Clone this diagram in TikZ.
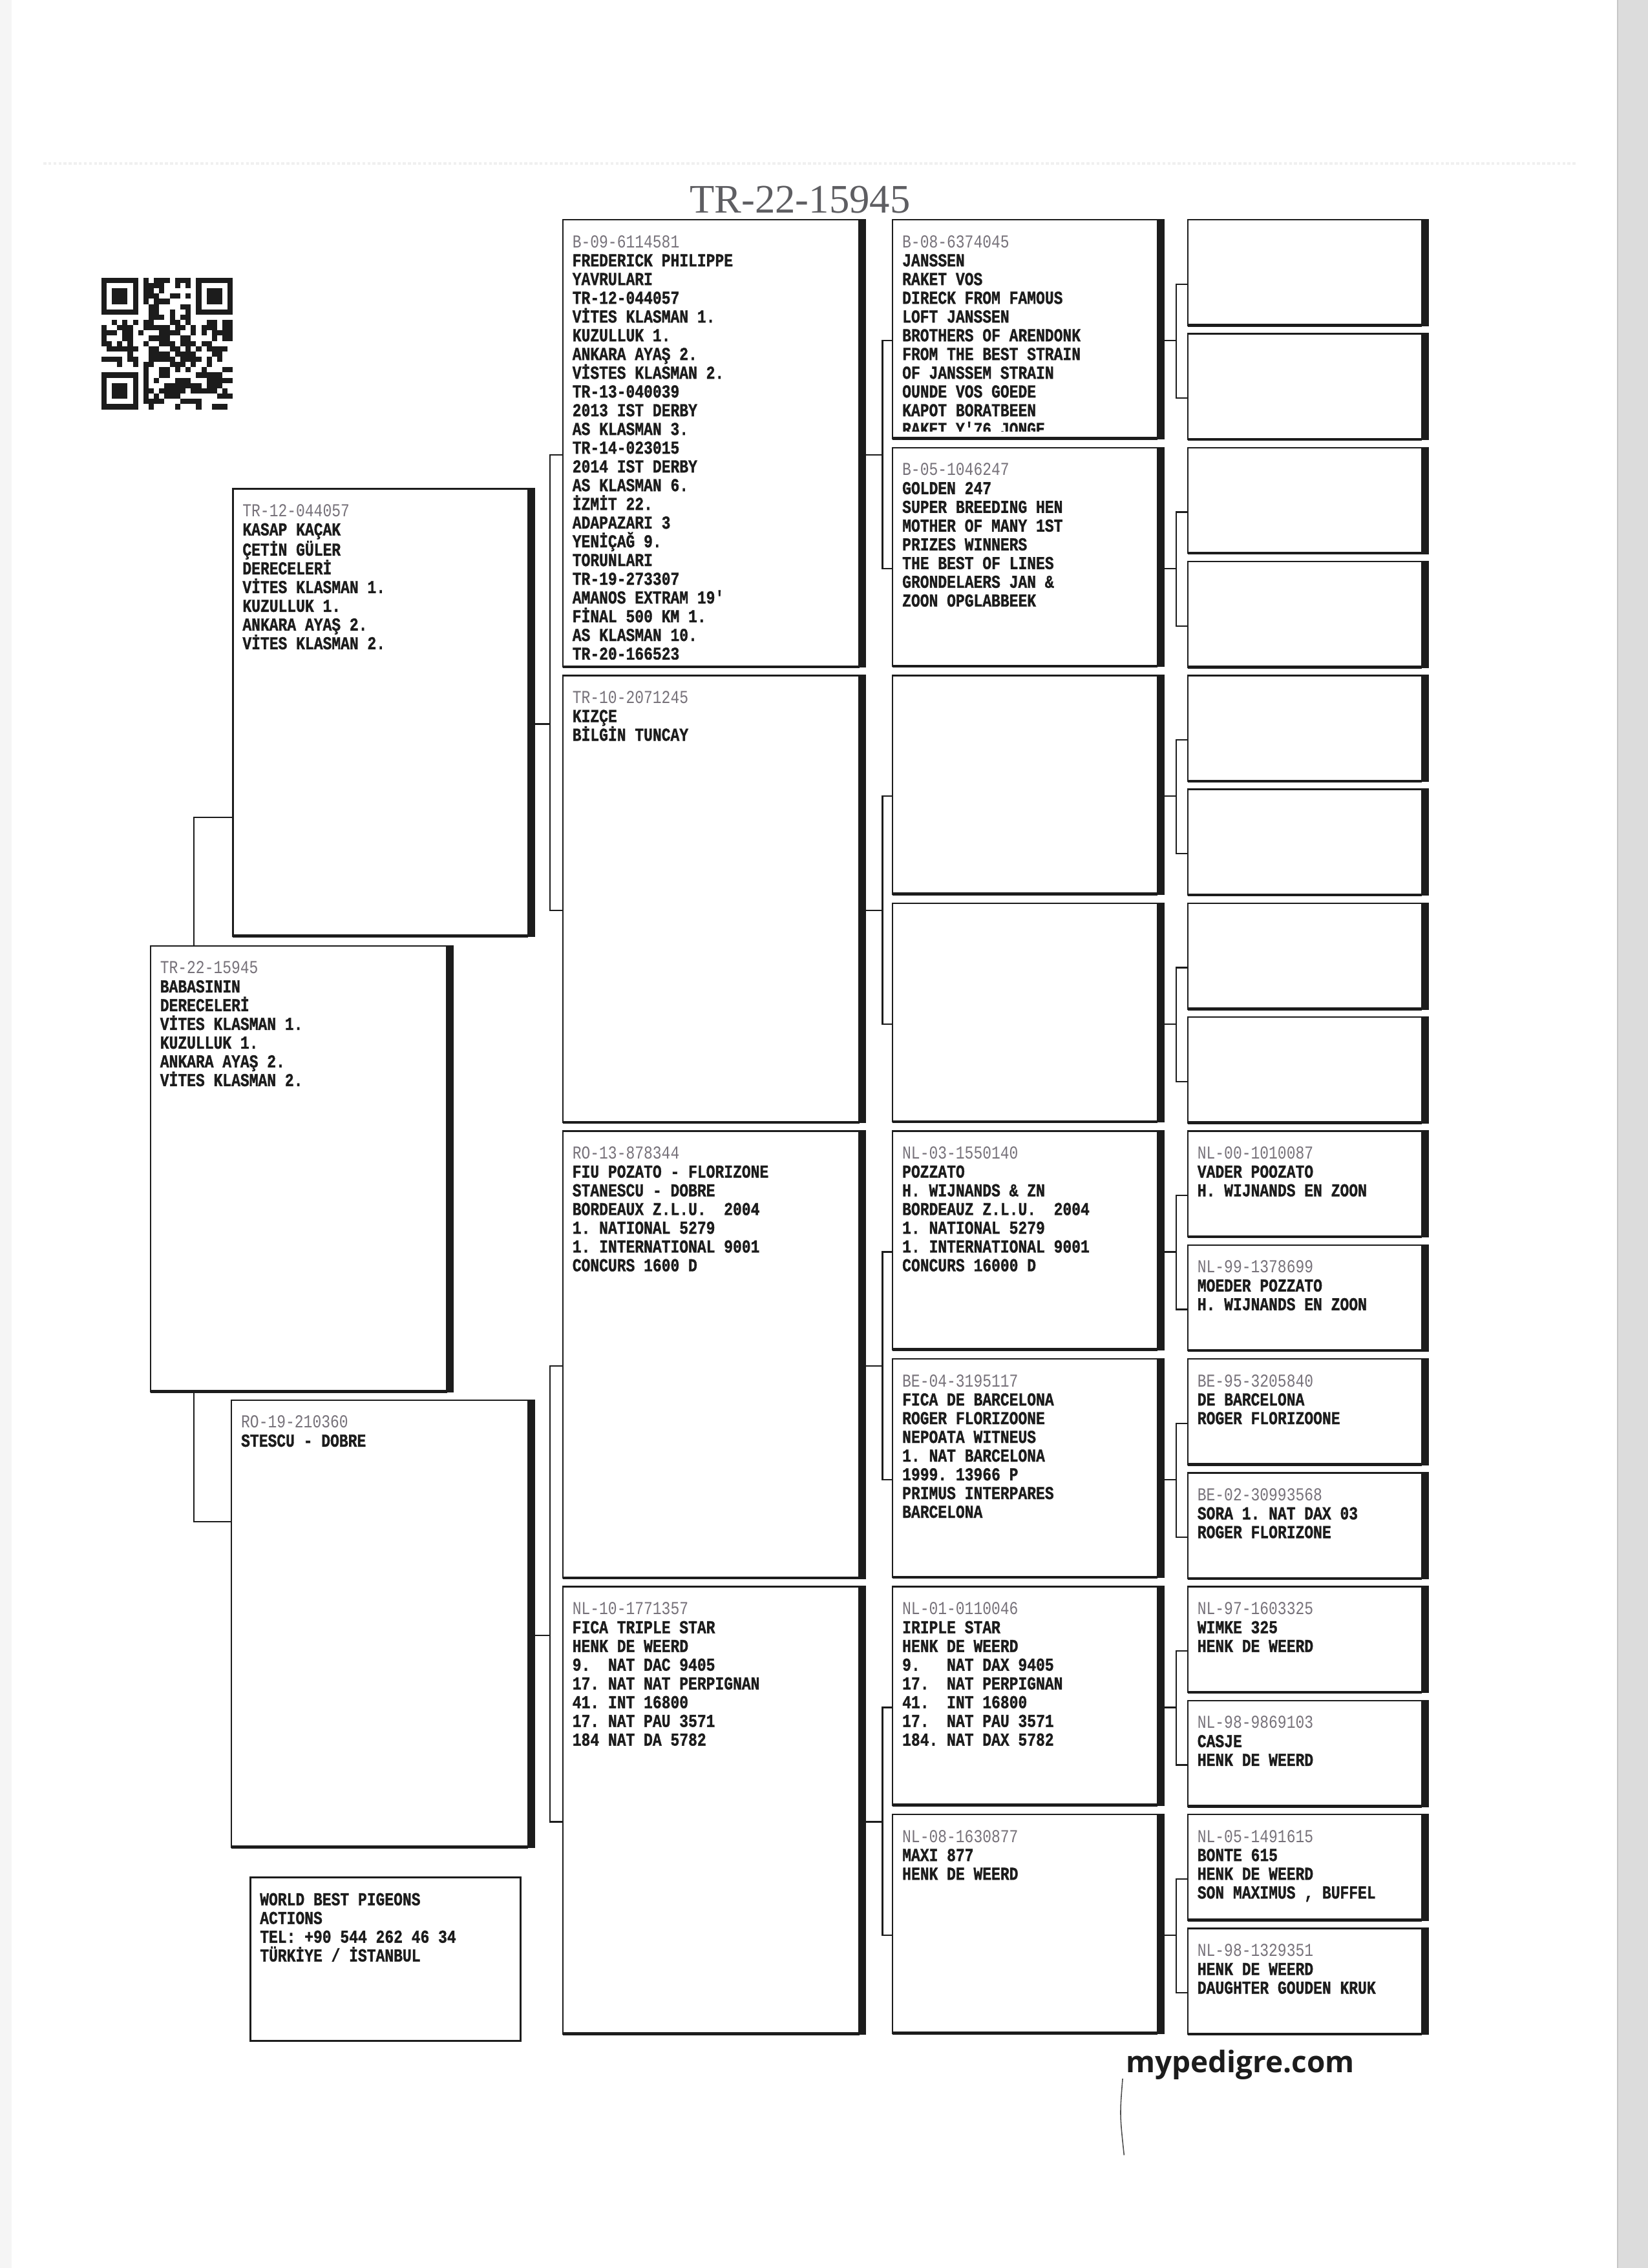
\documentclass[tikz,border=0pt]{standalone}
\usepackage{fontspec}
\newfontfamily\pedfont[FakeStretch=0.815, BoldFeatures={FakeBold=1.2}]{Liberation Mono}
\newfontfamily\titlefont{Liberation Serif}
\newfontfamily\logofont{Open Sans}
\definecolor{ink}{HTML}{1C1C1C}
\definecolor{ringgray}{HTML}{77727A}
\definecolor{titlegray}{HTML}{5E5E62}
\definecolor{paperedge}{HTML}{DCDCDC}
\tikzset{
  pedbox/.style={draw=ink, line width=1.1pt, inner sep=0pt, outer sep=0pt, anchor=north west, fill=white},
  pedtext/.style={anchor=north west, inner sep=0pt, align=left, text=ink, font=\pedfont\bfseries\fontsize{12.6}{12.95}\selectfont\frenchspacing},
  conn/.style={draw=ink, line width=1pt},
}
\newcommand\RingNo[1]{{\color{ringgray}\mdseries #1}}
\newcommand\PBox[5]{%
  \node[pedbox, minimum width=#4, minimum height=#5] (#1) at (#2,#3) {};
  \fill[ink] ([yshift=0.55pt]#1.north east) rectangle ([xshift=4.8pt,yshift=-0.6pt]#1.south east);
  \draw[ink, line width=2pt] (#1.south west) -- (#1.south east);
}
\newcommand\PText[3]{%
  \begin{scope}
    \clip ([xshift=0.6pt,yshift=-0.6pt]#1.north west) rectangle ([yshift=5pt]#1.south east);
    \node[pedtext] (#2) at ([xshift=6.5pt,yshift=-9pt]#1.north west) {\rule{0pt}{10pt}#3};
  \end{scope}}
\newcommand\PBracket[4]{%
  \draw[conn] ([yshift=-8pt]#2.west) -- ++(-#4,0) |- ([yshift=-8pt]#1.east);
  \draw[conn] ([yshift=-8pt]#3.west) -- ++(-#4,0) |- ([yshift=-8pt]#1.east);
}
\begin{document}
\begin{tikzpicture}[x=1pt,y=-1pt]
\useasboundingbox (0,0) rectangle (1139,1568);
% paper
\fill[white] (0,0) rectangle (1139,1568);
\fill[paperedge] (1118,0) rectangle (1139,1568);
\draw[gray!45, line width=0.8pt] (1118,0) -- (1118,1568);
\fill[gray!8] (0,0) rectangle (8,1568);
\draw[gray!12, line width=1.5pt, dash pattern=on 2pt off 1.5pt] (30,113) -- (1090,113);

% title
\node[font=\titlefont\fontsize{28}{30}\selectfont, text=titlegray, anchor=base, inner sep=0pt] (title) at (553,147) {TR-22-15945};

% QR code
\begin{scope}
\pgfmathsetseed{4711}
\foreach \i in {0,...,24}{
  \foreach \j in {0,...,24}{
    \pgfmathtruncatemacro\ok{((\i<8 && \j<8) || (\i>16 && \j<8) || (\i<8 && \j>16)) ? 0 : (rnd>0.5 ? 1 : 0)}
    \ifnum\ok=1 \fill[ink] ({70+\i*3.64},{192+\j*3.64}) rectangle ++(3.64,3.64);\fi
  }}
\foreach \fx/\fy in {0/0,18/0,0/18}{
  \fill[ink] ({70+\fx*3.64},{192+\fy*3.64}) rectangle ++(25.48,25.48);
  \fill[white] ({70+(\fx+1)*3.64},{192+(\fy+1)*3.64}) rectangle ++(18.2,18.2);
  \fill[ink] ({70+(\fx+2)*3.64},{192+(\fy+2)*3.64}) rectangle ++(10.92,10.92);
}
\end{scope}

% ---------- boxes ----------
% generation 1 and 2
\PBox{sub}{104}{654}{205}{308}
\PBox{sire}{161}{338}{204}{309}
\PBox{dam}{160}{968}{205}{309}
% generation 3
\PBox{ga}{389}{152}{205}{309}
\PBox{gb}{389}{467}{205}{309}
\PBox{gc}{389}{782}{205}{309}
\PBox{gd}{389}{1097}{205}{309}
% generation 4
\PBox{ha}{617}{152}{183}{151}
\PBox{hb}{617}{309.5}{183}{151}
\PBox{hc}{617}{467}{183}{151}
\PBox{hd}{617}{624.5}{183}{151}
\PBox{he}{617}{782}{183}{151}
\PBox{hf}{617}{939.5}{183}{151}
\PBox{hg}{617}{1097}{183}{151}
\PBox{hh}{617}{1254.5}{183}{151}
% generation 5
\PBox{ka}{821}{152}{162}{73}
\PBox{kb}{821}{230.75}{162}{73}
\PBox{kc}{821}{309.5}{162}{73}
\PBox{kd}{821}{388.25}{162}{73}
\PBox{ke}{821}{467}{162}{73}
\PBox{kf}{821}{545.75}{162}{73}
\PBox{kg}{821}{624.5}{162}{73}
\PBox{kh}{821}{703.25}{162}{73}
\PBox{ki}{821}{782}{162}{73}
\PBox{kj}{821}{860.75}{162}{73}
\PBox{kk}{821}{939.5}{162}{73}
\PBox{kl}{821}{1018.25}{162}{73}
\PBox{km}{821}{1097}{162}{73}
\PBox{kn}{821}{1175.75}{162}{73}
\PBox{ko}{821}{1254.5}{162}{73}
\PBox{kp}{821}{1333.25}{162}{73}
% info box
\node[draw=ink, line width=1.3pt, inner sep=0pt, outer sep=0pt, anchor=north west, fill=white, minimum width=187, minimum height=113] (info) at (173,1298) {};

% ---------- connectors ----------
\draw[conn] ([xshift=30pt]sub.north west) |- ([yshift=82pt]sire.south west);
\draw[conn] ([xshift=30pt]sub.south west) |- ([yshift=-84pt]dam.north west);
\PBracket{sire}{ga}{gb}{9}
\PBracket{dam}{gc}{gd}{9}
\PBracket{ga}{ha}{hb}{7}
\PBracket{gb}{hc}{hd}{7}
\PBracket{gc}{he}{hf}{7}
\PBracket{gd}{hg}{hh}{7}
\PBracket{ha}{ka}{kb}{8}
\PBracket{hb}{kc}{kd}{8}
\PBracket{hc}{ke}{kf}{8}
\PBracket{hd}{kg}{kh}{8}
\PBracket{he}{ki}{kj}{8}
\PBracket{hf}{kk}{kl}{8}
\PBracket{hg}{km}{kn}{8}
\PBracket{hh}{ko}{kp}{8}

% ---------- texts ----------
\PText{sub}{tsub}{\RingNo{TR-22-15945}\\BABASININ\\DERECELERİ\\VİTES KLASMAN 1.\\KUZULLUK 1.\\ANKARA AYAŞ 2.\\VİTES KLASMAN 2.}
\PText{sire}{tsire}{\RingNo{TR-12-044057}\\KASAP KAÇAK\\ÇETİN GÜLER\\DERECELERİ\\VİTES KLASMAN 1.\\KUZULLUK 1.\\ANKARA AYAŞ 2.\\VİTES KLASMAN 2.}
\PText{dam}{tdam}{\RingNo{RO-19-210360}\\STESCU - DOBRE}
\PText{ga}{tga}{\RingNo{B-09-6114581}\\FREDERICK PHILIPPE\\YAVRULARI\\TR-12-044057\\VİTES KLASMAN 1.\\KUZULLUK 1.\\ANKARA AYAŞ 2.\\VİSTES KLASMAN 2.\\TR-13-040039\\2013 IST DERBY\\AS KLASMAN 3.\\TR-14-023015\\2014 IST DERBY\\AS KLASMAN 6.\\İZMİT 22.\\ADAPAZARI 3\\YENİÇAĞ 9.\\TORUNLARI\\TR-19-273307\\AMANOS EXTRAM 19'\\FİNAL 500 KM 1.\\AS KLASMAN 10.\\TR-20-166523}
\PText{gb}{tgb}{\RingNo{TR-10-2071245}\\KIZÇE\\BİLGİN TUNCAY}
\PText{gc}{tgc}{\RingNo{RO-13-878344}\\FIU POZATO - FLORIZONE\\STANESCU - DOBRE\\BORDEAUX Z.L.U.\ \ 2004\\1. NATIONAL 5279\\1. INTERNATIONAL 9001\\CONCURS 1600 D}
\PText{gd}{tgd}{\RingNo{NL-10-1771357}\\FICA TRIPLE STAR\\HENK DE WEERD\\9.\ \ NAT DAC 9405\\17. NAT NAT PERPIGNAN\\41. INT 16800\\17. NAT PAU 3571\\184 NAT DA 5782}
\PText{ha}{tha}{\RingNo{B-08-6374045}\\JANSSEN\\RAKET VOS\\DIRECK FROM FAMOUS\\LOFT JANSSEN\\BROTHERS OF ARENDONK\\FROM THE BEST STRAIN\\OF JANSSEM STRAIN\\OUNDE VOS GOEDE\\KAPOT BORATBEEN\\RAKET Y'76 JONGE}
\PText{hb}{thb}{\RingNo{B-05-1046247}\\GOLDEN 247\\SUPER BREEDING HEN\\MOTHER OF MANY 1ST\\PRIZES WINNERS\\THE BEST OF LINES\\GRONDELAERS JAN \&\\ZOON OPGLABBEEK}
\PText{he}{the}{\RingNo{NL-03-1550140}\\POZZATO\\H. WIJNANDS \& ZN\\BORDEAUZ Z.L.U.\ \ 2004\\1. NATIONAL 5279\\1. INTERNATIONAL 9001\\CONCURS 16000 D}
\PText{hf}{thf}{\RingNo{BE-04-3195117}\\FICA DE BARCELONA\\ROGER FLORIZOONE\\NEPOATA WITNEUS\\1. NAT BARCELONA\\1999. 13966 P\\PRIMUS INTERPARES\\BARCELONA}
\PText{hg}{thg}{\RingNo{NL-01-0110046}\\IRIPLE STAR\\HENK DE WEERD\\9.\ \ \ NAT DAX 9405\\17.\ \ NAT PERPIGNAN\\41.\ \ INT 16800\\17.\ \ NAT PAU 3571\\184. NAT DAX 5782}
\PText{hh}{thh}{\RingNo{NL-08-1630877}\\MAXI 877\\HENK DE WEERD}
\PText{ki}{tki}{\RingNo{NL-00-1010087}\\VADER POOZATO\\H. WIJNANDS EN ZOON}
\PText{kj}{tkj}{\RingNo{NL-99-1378699}\\MOEDER POZZATO\\H. WIJNANDS EN ZOON}
\PText{kk}{tkk}{\RingNo{BE-95-3205840}\\DE BARCELONA\\ROGER FLORIZOONE}
\PText{kl}{tkl}{\RingNo{BE-02-30993568}\\SORA 1. NAT DAX 03\\ROGER FLORIZONE}
\PText{km}{tkm}{\RingNo{NL-97-1603325}\\WIMKE 325\\HENK DE WEERD}
\PText{kn}{tkn}{\RingNo{NL-98-9869103}\\CASJE\\HENK DE WEERD}
\PText{ko}{tko}{\RingNo{NL-05-1491615}\\BONTE 615\\HENK DE WEERD\\SON MAXIMUS , BUFFEL}
\PText{kp}{tkp}{\RingNo{NL-98-1329351}\\HENK DE WEERD\\DAUGHTER GOUDEN KRUK}
\PText{info}{tinfo}{WORLD BEST PIGEONS\\ACTIONS\\TEL: +90 544 262 46 34\\TÜRKİYE / İSTANBUL}

% logo
\node[font=\logofont\bfseries\fontsize{20.5}{22}\selectfont, text=ink, anchor=base west, inner sep=0pt] (logo) at (778,1433) {mypedigre.com};
\draw[gray!60!black, line width=0.7pt] (776,1437) .. controls (774,1462) .. (777,1490);
\end{tikzpicture}
\end{document}
